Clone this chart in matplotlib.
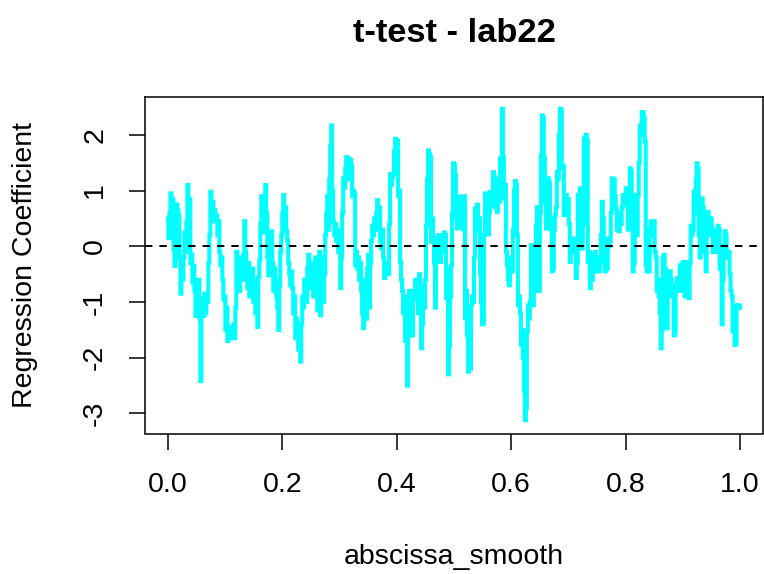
import matplotlib
matplotlib.use("Agg")
import matplotlib.pyplot as plt
import numpy as np

TITLE = "t-test - lab22"
X_LABEL = "abscissa_smooth"
Y_LABEL = "Regression Coefficient"
X_TICKS = [0.0, 0.2, 0.4, 0.6, 0.8, 1.0]
X_TICK_LABELS = ["0.0", "0.2", "0.4", "0.6", "0.8", "1.0"]
Y_TICKS = [-3, -2, -1, 0, 1, 2]
Y_TICK_LABELS = ["-3", "-2", "-1", "0", "1", "2"]

# coefficient, evenly spaced along abscissa_smooth in [0, 1]
coefficient = [
    0.50, 0.15, 0.60, 0.95, 0.40, 0.85, -0.05, -0.35, 0.15, 0.75,
    0.65, 0.55, -0.20, -0.85, -0.45, -0.60, -0.20, 0.25, -0.10, 0.45,
    1.10, 0.40, 0.85, -0.30, -0.15, -0.65, -0.35, -0.80, -1.25, -0.90,
    -1.20, -0.60, -1.30, -2.42, -1.20, -0.95, -1.25, -0.85, -1.20, -0.90,
    -1.00, -0.30, 0.20, 0.98, 0.55, 0.80, 0.45, 0.65, 0.50, 0.55,
    0.20, 0.45, -0.10, -0.34, -0.20, -0.60, -0.95, -0.90, -1.50, -1.10,
    -1.70, -1.45, -1.65, -1.55, -1.50, -1.60, -1.40, -1.65, -1.10, -0.10,
    -0.50, -0.20, -0.80, -0.55, -0.30, -0.60, -0.15, 0.45, -0.10, -0.40,
    -0.75, -0.30, -0.90, -0.50, -0.85, -0.40, -1.00, -0.60, -1.20, -0.95,
    -1.45, -0.55, -0.25, 0.40, 0.90, 0.55, 0.25, 0.70, 1.10, 0.60,
    -0.20, -0.52, -0.20, 0.10, 0.27, -0.30, -0.80, -0.40, -0.60, -0.90,
    -1.10, -1.50, -0.70, -0.10, 0.20, 0.60, 0.92, 0.50, 0.70, 0.27,
    0.10, -0.30, -0.50, -0.70, -0.45, -0.75, -1.20, -0.90, -1.65, -1.30,
    -1.50, -1.85, -1.70, -2.07, -1.40, -0.90, -1.10, -0.60, -0.80, -1.00,
    -0.40, -0.15, -0.35, -0.75, -0.30, -0.50, -0.90, -0.60, -0.20, -0.70,
    -1.15, -0.40, -0.10, -1.24, -0.60, -0.20, -1.00, -0.50, 0.20, 0.60,
    0.90, 0.30, 1.20, 1.80, 2.17, 1.00, 0.45, 0.20, 0.40, 0.10,
    0.30, -0.10, 0.00, -0.75, -0.20, 0.60, 1.22, 1.05, 1.40, 1.60,
    1.50, 1.58, 1.20, 1.55, 1.45, 0.90, 1.00, 0.95, -0.34, -0.10,
    -0.40, -0.20, -0.60, -0.30, -0.80, -1.20, -1.47, -0.90, -0.60, -1.30,
    -0.40, -0.15, -1.10, -0.30, 0.10, 0.37, 0.20, 0.50, 0.30, 0.60,
    0.83, 0.40, 0.70, 0.10, -0.03, 0.30, -0.20, -0.57, -0.30, -0.50,
    -0.30, -0.50, 0.40, 1.30, 1.10, 1.25, 1.30, 1.70, 1.93, 1.85,
    1.90, 0.90, 1.00, -0.28, -0.60, -0.80, -1.20, -0.90, -1.70, -1.40,
    -2.50, -1.60, -0.80, -1.20, -1.00, -1.60, -0.95, -0.80, -0.60, -0.95,
    -0.70, -1.20, -0.50, -1.00, -1.83, -1.40, -0.70, -1.10, -0.60, 0.37,
    1.20, 1.72, 1.65, 1.60, 0.08, 0.50, 0.14, -0.30, -1.10, -0.20,
    0.10, 0.20, 0.00, -0.28, 0.10, 0.20, -0.10, 0.25, 0.20, -0.93,
    -0.40, -2.30, -1.80, -0.90, -0.34, 0.60, 1.49, 1.45, 1.28, 0.50,
    0.32, 0.90, 0.35, 0.85, 0.40, 0.88, 0.30, 0.90, -1.29, -0.80,
    -1.60, -2.25, -1.70, -2.20, -1.06, -0.90, -1.00, -0.20, 0.68, 0.50,
    0.75, 0.27, 0.50, -0.50, -1.00, -1.40, -1.38, 0.20, 0.95, 0.40,
    0.80, 0.21, 0.60, 0.98, 0.75, 0.90, 1.33, 1.25, 0.70, 0.92,
    0.62, 1.20, 0.80, 1.58, 1.40, 2.47, 1.60, 0.86, 1.10, -0.10,
    -0.34, -0.60, -0.70, -0.40, -0.20, -0.45, 0.30, 1.00, 1.17, 1.10,
    0.20, -1.06, -0.90, -1.20, -1.77, -1.50, -2.00, -2.60, -3.12, -2.90,
    -1.53, -1.06, -1.30, -1.00, 0.02, -0.50, -1.06, -0.40, -0.80, 0.37,
    0.70, 0.37, -0.80, 0.60, 1.63, 2.35, 2.30, 1.60, 0.80, 0.32,
    0.40, 1.22, 1.15, 0.50, 0.30, -0.45, -0.40, 0.30, 0.56, 0.70,
    1.33, 1.20, 2.00, 2.47, 2.45, 1.40, 1.45, 0.56, 0.80, 0.92,
    0.70, 0.85, 0.40, -0.28, 0.00, -0.10, 0.14, -0.10, 0.10, -0.57,
    -0.30, 0.92, 0.60, 1.04, 0.80, -0.04, 0.40, 1.93, 1.95, 2.00,
    1.90, -0.28, -0.10, -0.75, -0.40, -0.60, -0.15, -0.30, -0.10, -0.45,
    -0.30, -0.20, -0.45, -0.30, 0.20, 0.80, 0.50, 0.10, -0.45, -0.30,
    -0.40, 0.14, 0.00, 0.10, 0.60, 1.22, 1.15, 1.20, 0.90, 0.68,
    0.30, 0.60, 0.27, 0.50, 0.40, 0.70, 0.92, 0.75, 0.85, 1.04,
    0.80, 0.30, 1.00, 1.40, 1.35, 0.90, -0.45, -0.30, 0.60, 0.92,
    0.20, 0.92, 1.50, 2.17, 2.00, 2.41, 2.40, 2.30, 1.88, -0.34,
    -0.45, -0.30, -0.45, 0.30, 0.45, 0.40, 0.20, 0.45, -0.10, -0.20,
    -0.80, -0.60, -0.90, -1.20, -1.83, -1.50, -0.20, -0.15, -0.40, -0.45,
    -1.47, -0.60, -0.90, -0.45, -0.60, -0.80, -0.70, -1.60, -1.55, -0.70,
    -0.57, -0.80, -0.60, -0.34, -0.50, -0.80, -0.28, -0.60, -0.90, -0.28,
    -0.70, -0.50, -0.93, -0.30, 0.37, 0.20, 0.30, 0.98, 0.60, 1.20,
    1.49, 1.40, 0.20, -0.20, 0.10, 0.86, 0.70, 0.40, -0.10, -0.45,
    0.30, 0.62, 0.40, 0.20, 0.50, 0.30, -0.10, 0.00, -0.10, 0.20,
    0.30, 0.37, 0.30, -0.40, -0.30, -1.40, -0.60, 0.00, 0.27, 0.20,
    -0.10, -0.20, -0.10, -0.50, -0.80, -0.90, -1.53, -1.30, -1.77, -1.75,
    -1.06, -1.10, -1.06, -1.10,
]
abscissa = np.linspace(0.0, 1.0, len(coefficient))

plt.rcParams["font.family"] = ["Liberation Sans", "DejaVu Sans"]

fig = plt.figure(figsize=(7.64, 5.74), dpi=100)
ax = fig.add_axes([145 / 764, 1 - 433.5 / 574, 618 / 764, 336.5 / 574])

ax.plot(abscissa, coefficient, color="#00FFFF", linewidth=2.9,
        drawstyle="steps-mid", solid_joinstyle="miter")
ax.axhline(0.0, color="black", linewidth=1.4, linestyle=(0, (3.8, 3.6)))

ax.set_xlim(-0.04, 1.04)
ax.set_ylim(-3.36, 2.68)
ax.set_xticks(X_TICKS)
ax.set_xticklabels(X_TICK_LABELS)
ax.set_yticks(Y_TICKS)
ax.set_yticklabels(Y_TICK_LABELS, rotation=90, va="center")

for spine in ax.spines.values():
    spine.set_linewidth(1.1)
    spine.set_color("black")
ax.tick_params(axis="both", direction="out", length=11.5, width=1.1, labelsize=20.5)
ax.tick_params(axis="x", pad=16)
ax.tick_params(axis="y", pad=15)

ax.set_xlabel(X_LABEL, fontsize=20.5)
ax.xaxis.set_label_coords(0.5, -0.367)
ax.xaxis.label.set_va("center")
ax.set_ylabel(Y_LABEL, fontsize=20.5)
ax.yaxis.set_label_coords(-0.194, 0.5)
ax.yaxis.label.set_va("center")

fig.text(454 / 764, 1 - 34 / 574, TITLE, ha="center", va="center",
         fontsize=24.8, fontweight="bold")

fig.savefig("out.png", dpi=100)
